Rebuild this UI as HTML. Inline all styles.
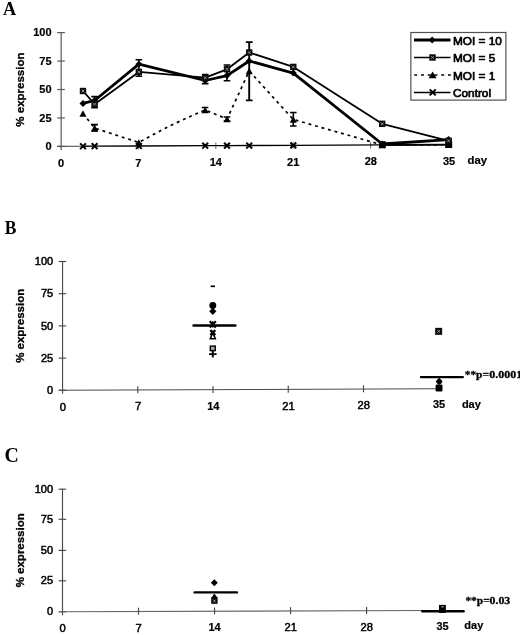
<!DOCTYPE html>
<html><head><meta charset="utf-8"><title>Figure</title>
<style>html,body{margin:0;padding:0;background:#fff}body{width:520px;height:635px;overflow:hidden}</style></head>
<body>
<svg width="520" height="635" viewBox="0 0 520 635" style="display:block;will-change:transform">
<rect width="520" height="635" fill="#fff"/>
<text transform="translate(3.1,15.0) scale(0.93,1)" x="0" y="0" font-family="Liberation Serif" font-size="19.6" font-weight="bold">A</text>
<text transform="translate(4.7,233.7) scale(0.9,1)" x="0" y="0" font-family="Liberation Serif" font-size="19.4" font-weight="bold">B</text>
<text transform="translate(4.6,461.6) scale(0.96,1)" x="0" y="0" font-family="Liberation Serif" font-size="20.6" font-weight="bold">C</text>
<path d="M61.15 32.1L61.15 149.9" stroke="#5a5a5a" stroke-width="1.2" fill="none"/>
<path d="M57.25 32.6L64.85 32.6" stroke="#5a5a5a" stroke-width="1.2"/>
<path d="M57.25 61.05L64.85 61.05" stroke="#5a5a5a" stroke-width="1.2"/>
<path d="M57.25 89.5L64.85 89.5" stroke="#5a5a5a" stroke-width="1.2"/>
<path d="M57.25 117.95L64.85 117.95" stroke="#5a5a5a" stroke-width="1.2"/>
<path d="M57.25 146.4L64.85 146.4" stroke="#5a5a5a" stroke-width="1.2"/>
<text x="51.60" y="36.45" font-family="Liberation Sans" font-size="11.0" font-weight="bold" text-anchor="end" stroke="#000" stroke-width="0.2">100</text>
<text x="51.60" y="64.90" font-family="Liberation Sans" font-size="11.0" font-weight="bold" text-anchor="end" stroke="#000" stroke-width="0.2">75</text>
<text x="51.60" y="93.35" font-family="Liberation Sans" font-size="11.0" font-weight="bold" text-anchor="end" stroke="#000" stroke-width="0.2">50</text>
<text x="51.60" y="121.80" font-family="Liberation Sans" font-size="11.0" font-weight="bold" text-anchor="end" stroke="#000" stroke-width="0.2">25</text>
<text x="51.60" y="150.25" font-family="Liberation Sans" font-size="11.0" font-weight="bold" text-anchor="end" stroke="#000" stroke-width="0.2">0</text>
<path d="M57.2 146.4L83 146.25" stroke="#555" stroke-width="1.2"/>
<text x="61.00" y="166.70" font-family="Liberation Sans" font-size="11.0" font-weight="bold" text-anchor="middle" stroke="#000" stroke-width="0.2">0</text>
<text x="138.40" y="166.60" font-family="Liberation Sans" font-size="11.0" font-weight="bold" text-anchor="middle" stroke="#000" stroke-width="0.2">7</text>
<text x="215.80" y="166.30" font-family="Liberation Sans" font-size="11.0" font-weight="bold" text-anchor="middle" stroke="#000" stroke-width="0.2">14</text>
<text x="293.20" y="166.10" font-family="Liberation Sans" font-size="11.0" font-weight="bold" text-anchor="middle" stroke="#000" stroke-width="0.2">21</text>
<text x="370.80" y="165.30" font-family="Liberation Sans" font-size="11.0" font-weight="bold" text-anchor="middle" stroke="#000" stroke-width="0.2">28</text>
<text x="449.00" y="164.50" font-family="Liberation Sans" font-size="11.0" font-weight="bold" text-anchor="middle" stroke="#000" stroke-width="0.2">35</text>
<text x="467.60" y="164.40" font-family="Liberation Sans" font-size="11.3" font-weight="bold" text-anchor="start" stroke="#000" stroke-width="0.2">day</text>
<text transform="translate(24.2,89.6) rotate(-90)" font-family="Liberation Sans" font-size="11.5" font-weight="bold" text-anchor="middle" stroke="#000" stroke-width="0.3">% expression</text>
<path d="M138.40 142.78L138.40 149.38" stroke="#777" stroke-width="1.1"/>
<path d="M215.80 142.46L215.80 149.06" stroke="#777" stroke-width="1.1"/>
<path d="M293.20 142.14L293.20 148.74" stroke="#777" stroke-width="1.1"/>
<path d="M370.60 141.82L370.60 148.42" stroke="#777" stroke-width="1.1"/>
<polyline points="83.00,146.25 94.60,146.20 138.85,146.00 205.20,145.71 227.00,145.62 249.20,145.52 293.30,145.33 382.20,144.94 448.60,144.65" fill="none" stroke="#000" stroke-width="1.3" stroke-linejoin="round"/>
<path d="M83.00 113.45 L94.60 128.10 L138.85 142.50 Q172.02 123.65 205.20 110.00 L227.00 119.00 L249.20 71.00 L293.30 119.50 L382.20 144.94 L448.60 144.75" fill="none" stroke="#000" stroke-width="1.7" stroke-dasharray="2.9 3.85"/>
<polyline points="83.00,91.00 94.60,104.20 138.85,71.90 205.20,77.70 227.00,69.30 249.20,52.50 293.30,66.90 382.20,123.80 448.60,140.80" fill="none" stroke="#000" stroke-width="1.8" stroke-linejoin="round"/>
<polyline points="83.00,103.40 94.60,100.50 138.85,64.20 205.20,80.50 227.00,75.60 249.20,61.00 293.30,73.10 382.20,144.00 448.60,139.60" fill="none" stroke="#000" stroke-width="2.8" stroke-linejoin="round"/>
<path d="M94.60 96.60L94.60 107.60M91.30 96.60L97.90 96.60M91.30 107.60L97.90 107.60" stroke="#000" stroke-width="1.6" fill="none"/>
<path d="M138.85 59.80L138.85 76.20M135.55 59.80L142.15 59.80M135.55 76.20L142.15 76.20" stroke="#000" stroke-width="1.6" fill="none"/>
<path d="M205.20 74.50L205.20 83.60M201.90 74.50L208.50 74.50M201.90 83.60L208.50 83.60" stroke="#000" stroke-width="1.6" fill="none"/>
<path d="M227.00 65.00L227.00 80.80M223.70 65.00L230.30 65.00M223.70 80.80L230.30 80.80" stroke="#000" stroke-width="1.6" fill="none"/>
<path d="M249.20 42.10L249.20 100.40M245.80 42.10L252.60 42.10M245.80 100.40L252.60 100.40" stroke="#000" stroke-width="1.9" fill="none"/>
<path d="M293.30 112.50L293.30 126.00M290.00 112.50L296.60 112.50M290.00 126.00L296.60 126.00" stroke="#000" stroke-width="1.6" fill="none"/>
<path d="M94.60 124.60L94.60 131.00M91.30 124.60L97.90 124.60M91.30 131.00L97.90 131.00" stroke="#000" stroke-width="1.6" fill="none"/>
<path d="M205.00 107.50L205.00 112.00M201.70 107.50L208.30 107.50M201.70 112.00L208.30 112.00" stroke="#000" stroke-width="1.6" fill="none"/>
<path d="M227.00 117.00L227.00 121.00M223.70 117.00L230.30 117.00M223.70 121.00L230.30 121.00" stroke="#000" stroke-width="1.6" fill="none"/>
<path d="M382.20 144.94L448.60 144.65" stroke="#000" stroke-width="1.9"/>
<rect x="379" y="141.3" width="6.8" height="6.3" fill="#000"/>
<rect x="445.5" y="141.5" width="6.7" height="6.1" fill="#000"/>
<path d="M80.10 143.35L85.90 149.15M85.90 143.35L80.10 149.15" stroke="#000" stroke-width="2.0" fill="none"/>
<path d="M91.70 143.30L97.50 149.10M97.50 143.30L91.70 149.10" stroke="#000" stroke-width="2.0" fill="none"/>
<path d="M135.95 143.10L141.75 148.90M141.75 143.10L135.95 148.90" stroke="#000" stroke-width="2.0" fill="none"/>
<path d="M202.30 142.81L208.10 148.61M208.10 142.81L202.30 148.61" stroke="#000" stroke-width="2.0" fill="none"/>
<path d="M224.10 142.72L229.90 148.52M229.90 142.72L224.10 148.52" stroke="#000" stroke-width="2.0" fill="none"/>
<path d="M246.30 142.62L252.10 148.42M252.10 142.62L246.30 148.42" stroke="#000" stroke-width="2.0" fill="none"/>
<path d="M290.40 142.43L296.20 148.23M296.20 142.43L290.40 148.23" stroke="#000" stroke-width="2.0" fill="none"/>
<path d="M379.30 142.04L385.10 147.84M385.10 142.04L379.30 147.84" stroke="#000" stroke-width="2.0" fill="none"/>
<path d="M445.70 141.75L451.50 147.55M451.50 141.75L445.70 147.55" stroke="#000" stroke-width="2.0" fill="none"/>
<path d="M83.00 110.15L86.55 116.75L79.45 116.75Z" fill="#000"/>
<path d="M94.60 124.80L98.15 131.40L91.05 131.40Z" fill="#000"/>
<path d="M138.85 139.20L142.40 145.80L135.30 145.80Z" fill="#000"/>
<path d="M205.20 106.70L208.75 113.30L201.65 113.30Z" fill="#000"/>
<path d="M227.00 115.70L230.55 122.30L223.45 122.30Z" fill="#000"/>
<path d="M249.20 67.70L252.75 74.30L245.65 74.30Z" fill="#000"/>
<path d="M293.30 116.20L296.85 122.80L289.75 122.80Z" fill="#000"/>
<path d="M382.20 141.64L385.75 148.24L378.65 148.24Z" fill="#000"/>
<path d="M448.60 141.45L452.15 148.05L445.05 148.05Z" fill="#000"/>
<path d="M83.00 99.90L86.50 103.40L83.00 106.90L79.50 103.40Z" fill="#000"/>
<path d="M94.60 97.00L98.10 100.50L94.60 104.00L91.10 100.50Z" fill="#000"/>
<path d="M138.85 60.70L142.35 64.20L138.85 67.70L135.35 64.20Z" fill="#000"/>
<path d="M205.20 77.00L208.70 80.50L205.20 84.00L201.70 80.50Z" fill="#000"/>
<path d="M227.00 72.10L230.50 75.60L227.00 79.10L223.50 75.60Z" fill="#000"/>
<path d="M249.20 57.50L252.70 61.00L249.20 64.50L245.70 61.00Z" fill="#000"/>
<path d="M293.30 69.60L296.80 73.10L293.30 76.60L289.80 73.10Z" fill="#000"/>
<path d="M382.20 140.50L385.70 144.00L382.20 147.50L378.70 144.00Z" fill="#000"/>
<path d="M448.60 136.10L452.10 139.60L448.60 143.10L445.10 139.60Z" fill="#000"/>
<rect x="79.80" y="87.80" width="6.4" height="6.4" fill="#0a0a0a"/>
<path d="M81.65 89.65L84.35 92.35M84.35 89.65L81.65 92.35" stroke="#bcbcbc" stroke-width="0.75"/>
<rect x="91.40" y="101.00" width="6.4" height="6.4" fill="#0a0a0a"/>
<path d="M93.25 102.85L95.95 105.55M95.95 102.85L93.25 105.55" stroke="#bcbcbc" stroke-width="0.75"/>
<rect x="135.65" y="68.70" width="6.4" height="6.4" fill="#0a0a0a"/>
<path d="M137.50 70.55L140.20 73.25M140.20 70.55L137.50 73.25" stroke="#bcbcbc" stroke-width="0.75"/>
<rect x="202.00" y="74.50" width="6.4" height="6.4" fill="#0a0a0a"/>
<path d="M203.85 76.35L206.55 79.05M206.55 76.35L203.85 79.05" stroke="#bcbcbc" stroke-width="0.75"/>
<rect x="223.80" y="66.10" width="6.4" height="6.4" fill="#0a0a0a"/>
<path d="M225.65 67.95L228.35 70.65M228.35 67.95L225.65 70.65" stroke="#bcbcbc" stroke-width="0.75"/>
<rect x="246.00" y="49.30" width="6.4" height="6.4" fill="#0a0a0a"/>
<path d="M247.85 51.15L250.55 53.85M250.55 51.15L247.85 53.85" stroke="#bcbcbc" stroke-width="0.75"/>
<rect x="290.10" y="63.70" width="6.4" height="6.4" fill="#0a0a0a"/>
<path d="M291.95 65.55L294.65 68.25M294.65 65.55L291.95 68.25" stroke="#bcbcbc" stroke-width="0.75"/>
<rect x="379.00" y="120.60" width="6.4" height="6.4" fill="#0a0a0a"/>
<path d="M380.85 122.45L383.55 125.15M383.55 122.45L380.85 125.15" stroke="#bcbcbc" stroke-width="0.75"/>
<rect x="445.40" y="137.60" width="6.4" height="6.4" fill="#0a0a0a"/>
<path d="M447.25 139.45L449.95 142.15M449.95 139.45L447.25 142.15" stroke="#bcbcbc" stroke-width="0.75"/>
<rect x="410.85" y="32.5" width="95.05" height="67.6" fill="#fff" stroke="#505050" stroke-width="1.2"/>
<path d="M414 40L450.5 40" stroke="#000" stroke-width="2.8"/>
<path d="M432.20 36.60L435.60 40.00L432.20 43.40L428.80 40.00Z" fill="#000"/>
<path d="M414 57.5L450.5 57.5" stroke="#000" stroke-width="1.5"/>
<rect x="429.30" y="54.30" width="6.4" height="6.4" fill="#0a0a0a"/>
<path d="M431.15 56.15L433.85 58.85M433.85 56.15L431.15 58.85" stroke="#bcbcbc" stroke-width="0.75"/>
<path d="M414.25 75L450.8 75" stroke="#000" stroke-width="1.7" stroke-dasharray="2.9 3.85"/>
<path d="M432.60 71.60L436.60 78.20L428.60 78.20Z" fill="#000"/>
<path d="M414 92.5L450.5 92.5" stroke="#000" stroke-width="1.5"/>
<path d="M429.70 89.40L435.70 95.40M435.70 89.40L429.70 95.40" stroke="#000" stroke-width="2.0" fill="none"/>
<text x="453.00" y="44.70" font-family="Liberation Sans" font-size="11.8" font-weight="normal" text-anchor="start" stroke="#000" stroke-width="0.7" stroke-linejoin="round">MOI = 10</text>
<text x="453.00" y="62.20" font-family="Liberation Sans" font-size="11.8" font-weight="normal" text-anchor="start" stroke="#000" stroke-width="0.7" stroke-linejoin="round">MOI = 5</text>
<text x="453.00" y="79.70" font-family="Liberation Sans" font-size="11.8" font-weight="normal" text-anchor="start" stroke="#000" stroke-width="0.7" stroke-linejoin="round">MOI = 1</text>
<text x="453.00" y="97.20" font-family="Liberation Sans" font-size="11.8" font-weight="normal" text-anchor="start" stroke="#000" stroke-width="0.7" stroke-linejoin="round">Control</text>
<path d="M62.55 261.0L62.55 393.8" stroke="#4a4a4a" stroke-width="1.15" fill="none"/>
<path d="M58.65 261.5L66.25 261.5" stroke="#4a4a4a" stroke-width="1.15"/>
<path d="M58.65 293.7L66.25 293.7" stroke="#4a4a4a" stroke-width="1.15"/>
<path d="M58.65 325.9L66.25 325.9" stroke="#4a4a4a" stroke-width="1.15"/>
<path d="M58.65 358.1L66.25 358.1" stroke="#4a4a4a" stroke-width="1.15"/>
<path d="M58.65 390.3L66.25 390.3" stroke="#4a4a4a" stroke-width="1.15"/>
<text x="53.20" y="265.10" font-family="Liberation Sans" font-size="11" font-weight="normal" text-anchor="end" stroke="#000" stroke-width="0.5">100</text>
<text x="53.20" y="297.30" font-family="Liberation Sans" font-size="11" font-weight="normal" text-anchor="end" stroke="#000" stroke-width="0.5">75</text>
<text x="53.20" y="329.50" font-family="Liberation Sans" font-size="11" font-weight="normal" text-anchor="end" stroke="#000" stroke-width="0.5">50</text>
<text x="53.20" y="361.70" font-family="Liberation Sans" font-size="11" font-weight="normal" text-anchor="end" stroke="#000" stroke-width="0.5">25</text>
<text x="53.20" y="393.90" font-family="Liberation Sans" font-size="11" font-weight="normal" text-anchor="end" stroke="#000" stroke-width="0.5">0</text>
<path d="M58.7 390.3L436 388.7" stroke="#4a4a4a" stroke-width="1.15"/>
<path d="M137.75 386.28L137.75 393.28" stroke="#4a4a4a" stroke-width="1.15"/>
<path d="M213.00 385.95L213.00 392.95" stroke="#4a4a4a" stroke-width="1.15"/>
<path d="M288.25 385.63L288.25 392.63" stroke="#4a4a4a" stroke-width="1.15"/>
<path d="M363.50 385.31L363.50 392.31" stroke="#4a4a4a" stroke-width="1.15"/>
<text x="62.80" y="410.50" font-family="Liberation Sans" font-size="11.2" font-weight="normal" text-anchor="middle" stroke="#000" stroke-width="0.5">0</text>
<text x="138.05" y="410.30" font-family="Liberation Sans" font-size="11.2" font-weight="normal" text-anchor="middle" stroke="#000" stroke-width="0.5">7</text>
<text x="288.55" y="409.90" font-family="Liberation Sans" font-size="11.2" font-weight="normal" text-anchor="middle" stroke="#000" stroke-width="0.5">21</text>
<text x="363.80" y="408.80" font-family="Liberation Sans" font-size="11.2" font-weight="normal" text-anchor="middle" stroke="#000" stroke-width="0.5">28</text>
<text x="213.30" y="409.70" font-family="Liberation Sans" font-size="11.0" font-weight="bold" text-anchor="middle" stroke="#000" stroke-width="0.2">14</text>
<text x="439.00" y="407.60" font-family="Liberation Sans" font-size="11.0" font-weight="bold" text-anchor="middle" stroke="#000" stroke-width="0.2">35</text>
<text x="461.90" y="407.60" font-family="Liberation Sans" font-size="11.0" font-weight="bold" text-anchor="start" stroke="#000" stroke-width="0.2">day</text>
<text transform="translate(24.2,325.85) rotate(-90) scale(1.065,1)" font-family="Liberation Sans" font-size="10.8" font-weight="bold" text-anchor="middle" stroke="#000" stroke-width="0.3">% expression</text>
<path d="M210.60000000000002 286.3L215.0 286.3" stroke="#000" stroke-width="1.7"/>
<circle cx="212.8" cy="305.5" r="3.45" fill="#000"/>
<path d="M212.80 307.70L216.40 311.30L212.80 314.90L209.20 311.30Z" fill="#000"/>
<path d="M193.6 325.5L235.3 325.5" stroke="#000" stroke-width="2.5" stroke-linecap="round"/>
<path d="M209.70 321.30L215.90 327.50M215.90 321.30L209.70 327.50" stroke="#000" stroke-width="2.1" fill="none"/>
<path d="M212.8 321.2L212.8 327.6" stroke="#000" stroke-width="1.6"/>
<path d="M212.8 332.6L215.3 338.7L210.3 338.7Z" fill="#fff" stroke="#000" stroke-width="1.5" stroke-linejoin="miter"/>
<path d="M210.30 330.10L215.30 335.10M215.30 330.10L210.30 335.10" stroke="#000" stroke-width="2.2" fill="none"/>
<rect x="210.3" y="346.1" width="5" height="4.5" fill="#aaa" stroke="#000" stroke-width="1.4"/>
<path d="M209.10000000000002 354.1L216.60000000000002 354.1M212.8 351L212.8 357.6" stroke="#000" stroke-width="1.9"/>
<rect x="435.15" y="327.85" width="7.0" height="7.0" fill="#0a0a0a"/>
<path d="M437.30 330.00L440.00 332.70M440.00 330.00L437.30 332.70" stroke="#bcbcbc" stroke-width="0.75"/>
<path d="M421 377.1L462.8 377.1" stroke="#000" stroke-width="2.4" stroke-linecap="round"/>
<path d="M439.2 377.5L439.2 380" stroke="#000" stroke-width="1.4"/>
<path d="M439.20 378.20L442.60 381.60L439.20 385.00L435.80 381.60Z" fill="#000"/>
<circle cx="439.2" cy="381.6" r="2.7" fill="#000"/>
<rect x="435.6" y="384.6" width="6.9" height="7" rx="1.3" fill="#000"/>
<text x="464.7" y="378.2" font-family="Liberation Serif" font-size="11" font-weight="bold" textLength="24.3" lengthAdjust="spacingAndGlyphs" stroke="#000" stroke-width="0.3">**p=</text>
<text x="489.2" y="378.2" font-family="Liberation Serif" font-size="11" font-weight="bold" textLength="33" lengthAdjust="spacingAndGlyphs" stroke="#000" stroke-width="0.3">0.0001</text>
<path d="M62.5 488.7L62.5 615.3" stroke="#4a4a4a" stroke-width="1.15" fill="none"/>
<path d="M58.60 489.2L66.20 489.2" stroke="#4a4a4a" stroke-width="1.15"/>
<path d="M58.60 519.3L66.20 519.3" stroke="#4a4a4a" stroke-width="1.15"/>
<path d="M58.60 550.4L66.20 550.4" stroke="#4a4a4a" stroke-width="1.15"/>
<path d="M58.60 580.8L66.20 580.8" stroke="#4a4a4a" stroke-width="1.15"/>
<path d="M58.60 611.8L66.20 611.8" stroke="#4a4a4a" stroke-width="1.15"/>
<text x="53.10" y="492.80" font-family="Liberation Sans" font-size="11" font-weight="normal" text-anchor="end" stroke="#000" stroke-width="0.5">100</text>
<text x="53.10" y="522.90" font-family="Liberation Sans" font-size="11" font-weight="normal" text-anchor="end" stroke="#000" stroke-width="0.5">75</text>
<text x="53.10" y="554.00" font-family="Liberation Sans" font-size="11" font-weight="normal" text-anchor="end" stroke="#000" stroke-width="0.5">50</text>
<text x="53.10" y="584.40" font-family="Liberation Sans" font-size="11" font-weight="normal" text-anchor="end" stroke="#000" stroke-width="0.5">25</text>
<text x="53.10" y="615.40" font-family="Liberation Sans" font-size="11" font-weight="normal" text-anchor="end" stroke="#000" stroke-width="0.5">0</text>
<path d="M58.9 611.8L422 610.5" stroke="#666" stroke-width="1.1"/>
<path d="M138.52 607.72L138.52 614.72" stroke="#4a4a4a" stroke-width="1.15"/>
<path d="M214.54 607.45L214.54 614.45" stroke="#4a4a4a" stroke-width="1.15"/>
<path d="M290.56 607.17L290.56 614.17" stroke="#4a4a4a" stroke-width="1.15"/>
<path d="M366.58 606.90L366.58 613.90" stroke="#4a4a4a" stroke-width="1.15"/>
<text x="62.70" y="631.90" font-family="Liberation Sans" font-size="11.2" font-weight="normal" text-anchor="middle" stroke="#000" stroke-width="0.5">0</text>
<text x="138.72" y="631.60" font-family="Liberation Sans" font-size="11.2" font-weight="normal" text-anchor="middle" stroke="#000" stroke-width="0.5">7</text>
<text x="290.76" y="630.90" font-family="Liberation Sans" font-size="11.2" font-weight="normal" text-anchor="middle" stroke="#000" stroke-width="0.5">21</text>
<text x="366.78" y="630.50" font-family="Liberation Sans" font-size="11.2" font-weight="normal" text-anchor="middle" stroke="#000" stroke-width="0.5">28</text>
<text x="214.50" y="631.00" font-family="Liberation Sans" font-size="11.0" font-weight="bold" text-anchor="middle" stroke="#000" stroke-width="0.2">14</text>
<text x="442.50" y="630.20" font-family="Liberation Sans" font-size="11.0" font-weight="bold" text-anchor="middle" stroke="#000" stroke-width="0.2">35</text>
<text x="464.30" y="629.40" font-family="Liberation Sans" font-size="11.0" font-weight="bold" text-anchor="start" stroke="#000" stroke-width="0.2">day</text>
<text transform="translate(24.2,550.3) rotate(-90) scale(1.065,1)" font-family="Liberation Sans" font-size="10.8" font-weight="bold" text-anchor="middle" stroke="#000" stroke-width="0.3">% expression</text>
<path d="M214.30 579.20L217.80 582.70L214.30 586.20L210.80 582.70Z" fill="#000"/>
<path d="M194.6 592.4L236.9 592.4" stroke="#000" stroke-width="2.4" stroke-linecap="round"/>
<path d="M214.4 593.5L217.6 598L211.2 598Z" fill="#000"/>
<rect x="211.2" y="597.4" width="6.4" height="6.4" fill="#000"/>
<path d="M213 599.5L215.8 602.5M215.8 599.5L213 602.5" stroke="#bbb" stroke-width="0.8"/>
<rect x="439" y="604.9" width="6.9" height="8" fill="#000"/>
<rect x="441.2" y="606.2" width="2.6" height="1.2" fill="#999"/>
<path d="M422.3 611.3L463.6 611.3" stroke="#000" stroke-width="2.4" stroke-linecap="round"/>
<text x="465.4" y="603.6" font-family="Liberation Serif" font-size="11" font-weight="bold" textLength="24.3" lengthAdjust="spacingAndGlyphs" stroke="#000" stroke-width="0.3">**p=</text>
<text x="489.6" y="603.6" font-family="Liberation Serif" font-size="11" font-weight="bold" textLength="20.6" lengthAdjust="spacingAndGlyphs" stroke="#000" stroke-width="0.3">0.03</text>
</svg>
</body></html>
